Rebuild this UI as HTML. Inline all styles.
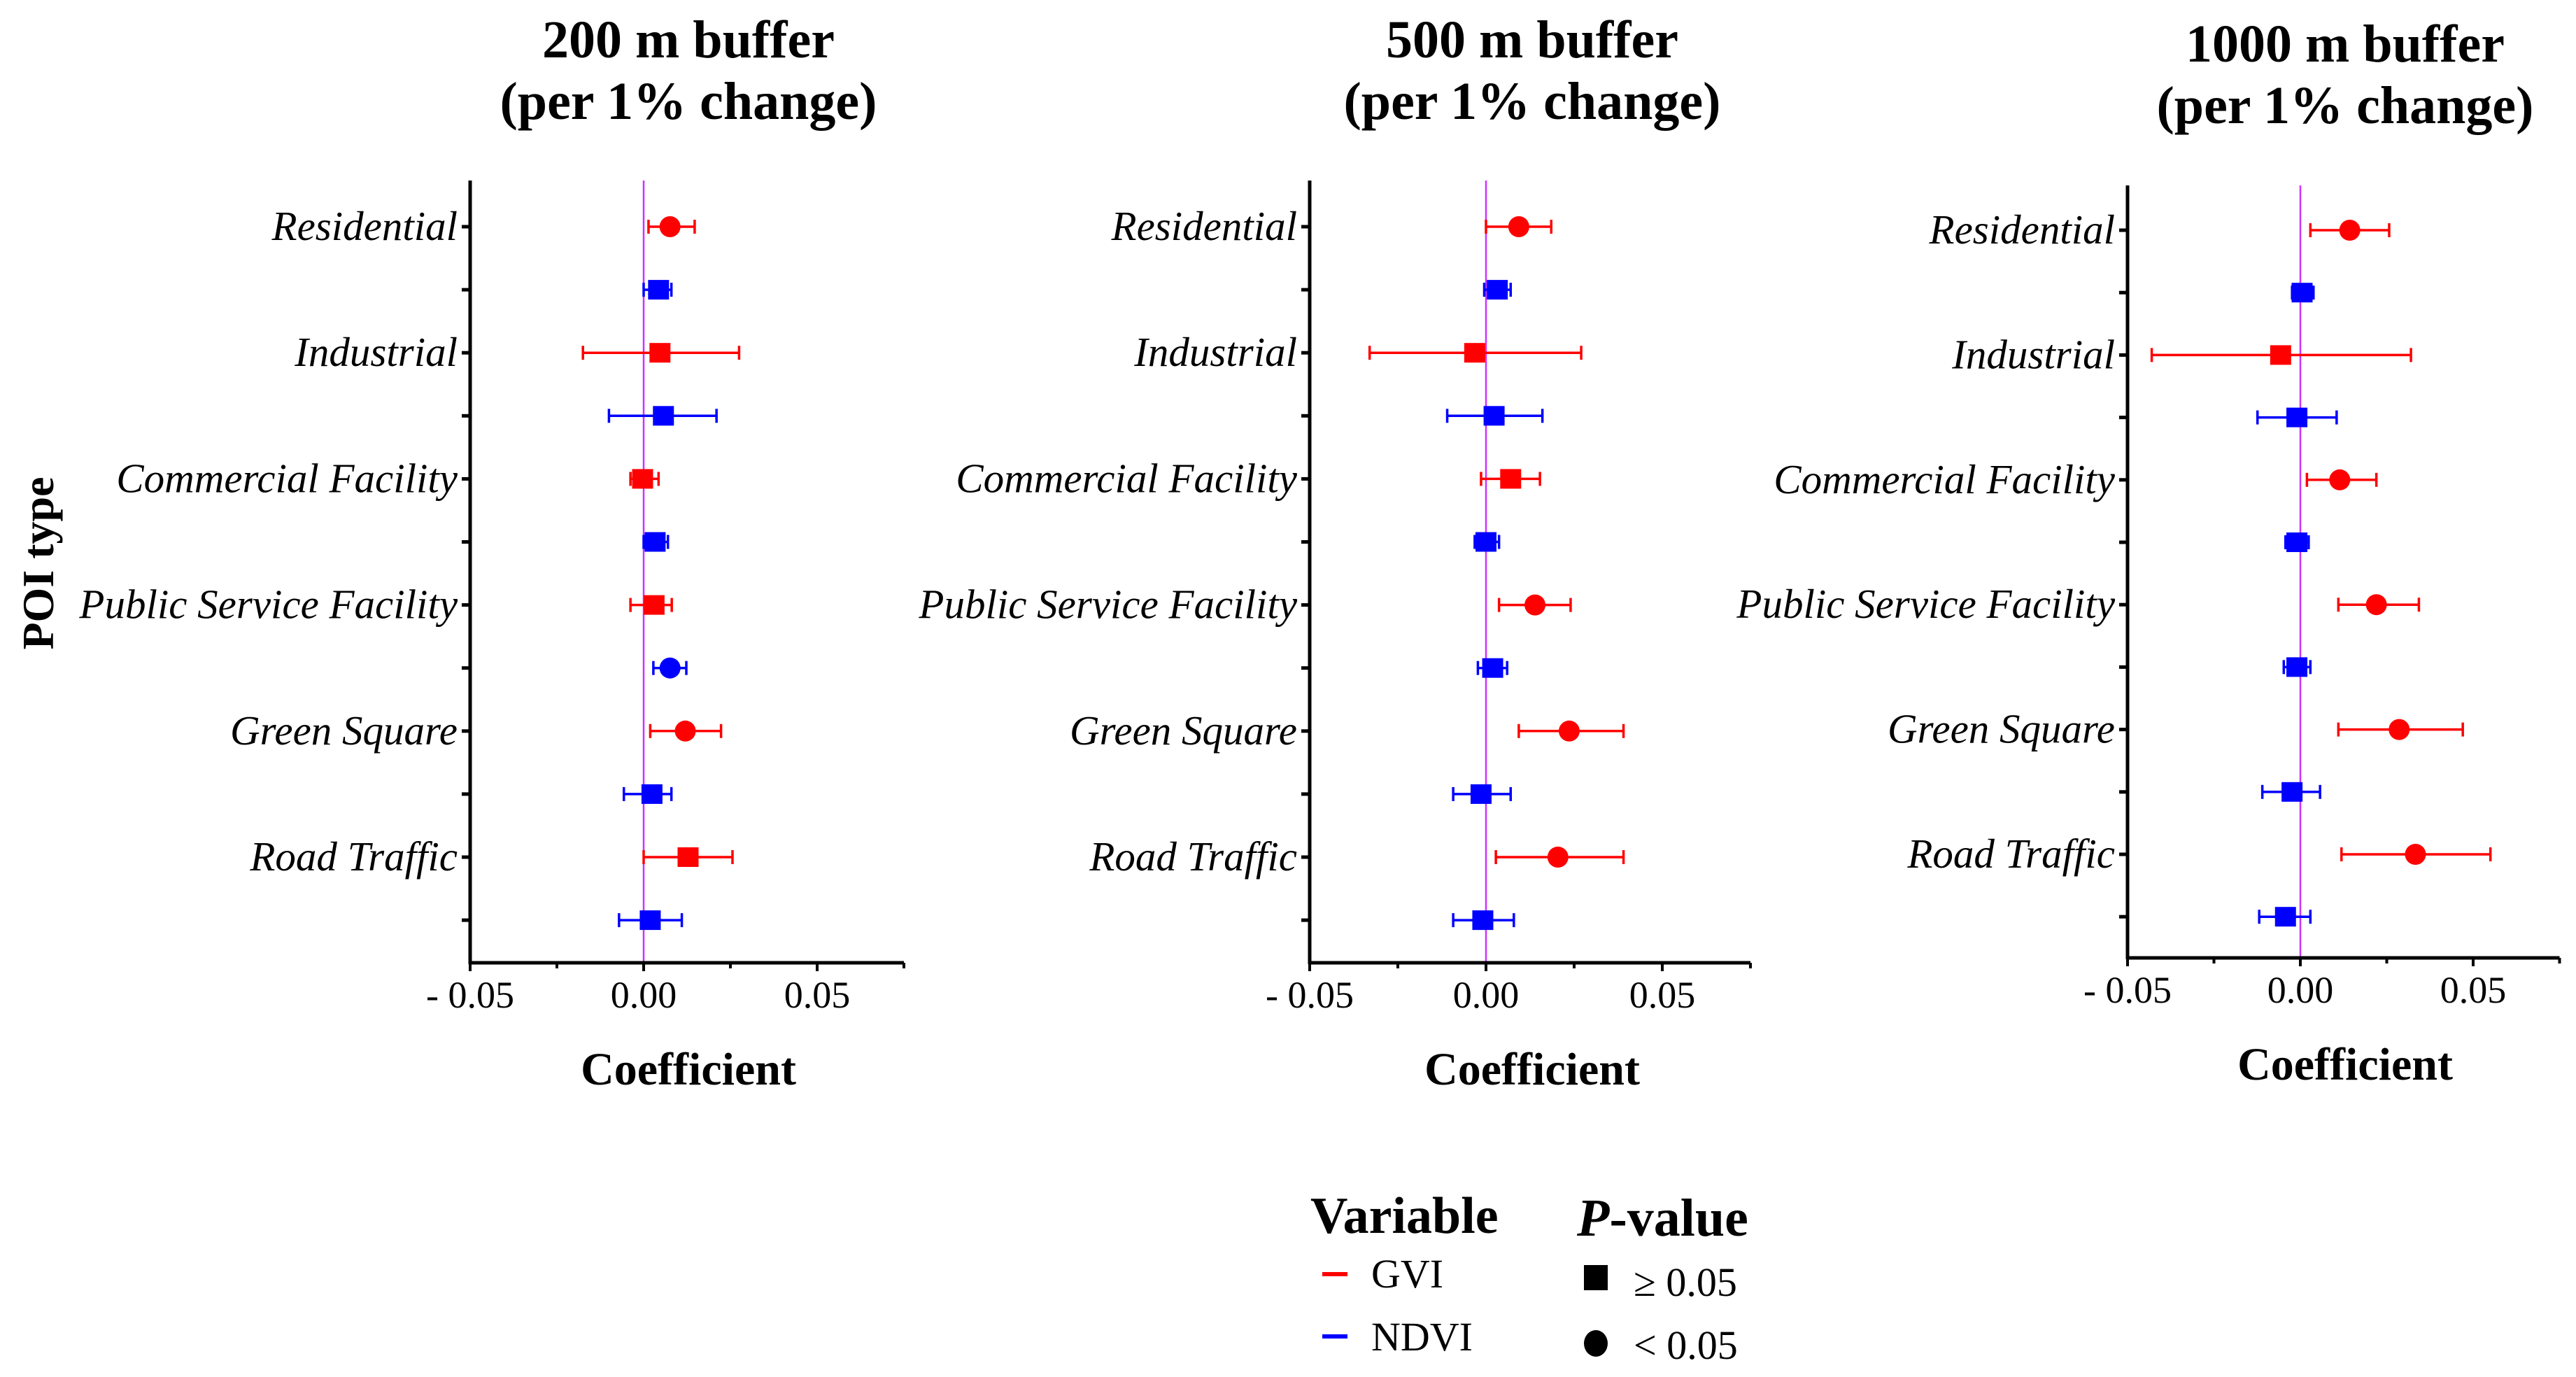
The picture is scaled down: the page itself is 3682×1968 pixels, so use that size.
<!DOCTYPE html>
<html><head><meta charset="utf-8">
<style>
html,body{margin:0;padding:0;background:#fff;}
svg{display:block;font-family:"Liberation Serif",serif;}
</style></head>
<body>
<svg id="chart" width="3682" height="1968" viewBox="0 0 3682 1968" xmlns="http://www.w3.org/2000/svg">
<text x="0" y="0" transform="translate(76,805) rotate(-90)" text-anchor="middle" font-weight="bold" font-size="64">POI type</text>
<g>
<text x="1873" y="1762" font-weight="bold" font-size="74">Variable</text>
<rect x="1890" y="1818" width="36" height="6" fill="#ff0000"/>
<text x="1960" y="1840" font-size="58">GVI</text>
<rect x="1890" y="1907" width="36" height="6" fill="#0000ff"/>
<text x="1960" y="1930" font-size="58">NDVI</text>
<text x="2254" y="1766" font-weight="bold" font-size="76"><tspan font-style="italic">P</tspan>-value</text>
<rect x="2264" y="1808" width="34" height="36" fill="#000"/>
<text x="2335" y="1852" font-size="58">≥ 0.05</text>
<ellipse cx="2281" cy="1920" rx="17" ry="19" fill="#000"/>
<text x="2335" y="1942" font-size="58">&lt; 0.05</text>
</g>
</svg>
<script>
const categories = ["Residential","Industrial","Commercial Facility","Public Service Facility","Green Square","Road Traffic"];
const xTickLabels = ["- 0.05","0.00","0.05"];
const xTickValues = [-0.05, 0, 0.05];
const panelTitles = ["200 m buffer","500 m buffer","1000 m buffer"];
// each: [est, low, high, significant(1=p<0.05)]
const gvi200 = [[0.0076,0.0014,0.0147,1],[0.0047,-0.0175,0.0275,0],[-0.0003,-0.0038,0.0043,0],[0.003,-0.0038,0.0081,0],[0.012,0.0019,0.0223,1],[0.0128,0,0.0256,0]];
const ndvi200 = [[0.0043,0,0.008,0],[0.0057,-0.01,0.021,0],[0.0033,0,0.007,0],[0.0076,0.0028,0.0123,1],[0.0024,-0.0057,0.008,0],[0.0019,-0.0071,0.011,0]];
const gvi500 = [[0.0093,0,0.0185,1],[-0.0032,-0.033,0.027,0],[0.007,-0.0014,0.0153,0],[0.0139,0.0037,0.024,1],[0.0236,0.0093,0.039,1],[0.0204,0.0028,0.039,1]];
const ndvi500 = [[0.0032,-0.0005,0.007,0],[0.0023,-0.011,0.016,0],[0,-0.0032,0.0037,0],[0.0019,-0.0023,0.006,0],[-0.0014,-0.0093,0.007,0],[-0.0009,-0.0093,0.0079,0]];
const gvi1000 = [[0.0143,0.0029,0.0257,1],[-0.0057,-0.043,0.032,0],[0.0114,0.0019,0.022,1],[0.022,0.011,0.0343,1],[0.0286,0.011,0.047,1],[0.0333,0.0119,0.055,1]];
const ndvi1000 = [[0.0005,-0.0024,0.0038,0],[-0.001,-0.0124,0.0105,0],[-0.001,-0.0043,0.0024,0],[-0.001,-0.0048,0.0029,0],[-0.0024,-0.011,0.0057,0],[-0.0043,-0.0119,0.0029,0]];

const NS="http://www.w3.org/2000/svg";
const svg=document.getElementById('chart');
function mk(tag,attrs,parent){const e=document.createElementNS(NS,tag);for(const k in attrs)e.setAttribute(k,attrs[k]);(parent||svg).appendChild(e);return e;}
const panels=[
 {ax:672,per:248,xAxisY:1376,top:258,row0:324,step:90.1,titleY:[82,170],cx:984,gvi:gvi200,ndvi:ndvi200},
 {ax:1872,per:252,xAxisY:1376,top:258,row0:324,step:90.1,titleY:[82,170],cx:2190,gvi:gvi500,ndvi:ndvi500},
 {ax:3041,per:247,xAxisY:1369,top:265,row0:329,step:89.2,titleY:[88,176],cx:3352,gvi:gvi1000,ndvi:ndvi1000}
];
panels.forEach((p,pi)=>{
 const g=mk('g',{});
 
 
 const x=v=>p.ax+(v+0.05)/0.05*p.per;
 const y=i=>p.row0+i*p.step;
 const right=x(0.075);
 let t=mk('text',{x:p.cx,y:p.titleY[0],'text-anchor':'middle','font-weight':'bold','font-size':76},g);t.textContent=panelTitles[pi];
 
 
 t=mk('text',{x:p.cx,y:p.titleY[1],'text-anchor':'middle','font-weight':'bold','font-size':76},g);t.textContent='(per 1% change)';
 
 
 let z=mk('line',{x1:x(0),x2:x(0),y1:p.top,y2:p.xAxisY,stroke:'#cc33ff','stroke-width':2.5},g);
 
 
 let a=mk('line',{x1:p.ax,x2:p.ax,y1:p.top,y2:p.xAxisY+2,stroke:'#000','stroke-width':5},g);
 
 
 a=mk('line',{x1:p.ax-2,x2:right,y1:p.xAxisY,y2:p.xAxisY,stroke:'#000','stroke-width':5},g);
 
 
 for(let k=0;k<6;k++){const v=-0.05+k*0.025;const tk=mk('line',{x1:x(v),x2:x(v),y1:p.xAxisY,y2:p.xAxisY+(k%2?8:12),stroke:'#000','stroke-width':4},g);
  
  }
 xTickValues.forEach((v,k)=>{const tl=mk('text',{x:x(v),y:p.xAxisY+64,'text-anchor':'middle','font-size':54},g);tl.textContent=xTickLabels[k];
  
  });
 t=mk('text',{x:p.cx,y:p.xAxisY+174,'text-anchor':'middle','font-weight':'bold','font-size':66},g);t.textContent='Coefficient';
 
 
 for(let i=0;i<12;i++){const tk=mk('line',{x1:p.ax-12,x2:p.ax,y1:y(i),y2:y(i),stroke:'#000','stroke-width':5},g);
  
  }
 categories.forEach((c,ci)=>{const tl=mk('text',{x:p.ax-18,y:y(ci*2)+19,'text-anchor':'end','font-style':'italic','font-size':59},g);tl.textContent=c;
  
  });
 const draw=(d,row,col,nm)=>{
  const gg=mk('g',{},g);
  
  
  const yy=y(row);
  mk('line',{x1:x(d[1]),x2:x(d[2]),y1:yy,y2:yy,stroke:col,'stroke-width':3.5},gg);
  mk('line',{x1:x(d[1]),x2:x(d[1]),y1:yy-10,y2:yy+10,stroke:col,'stroke-width':3.5},gg);
  mk('line',{x1:x(d[2]),x2:x(d[2]),y1:yy-10,y2:yy+10,stroke:col,'stroke-width':3.5},gg);
  if(d[3]) mk('circle',{cx:x(d[0]),cy:yy,r:15,fill:col},gg);
  else mk('rect',{x:x(d[0])-15,y:yy-14,width:30,height:28,fill:col},gg);
 };
 categories.forEach((c,ci)=>{draw(p.gvi[ci],ci*2,'#ff0000','gvi-point');draw(p.ndvi[ci],ci*2+1,'#0000ff','ndvi-point');});
});
</script>
</body></html>
